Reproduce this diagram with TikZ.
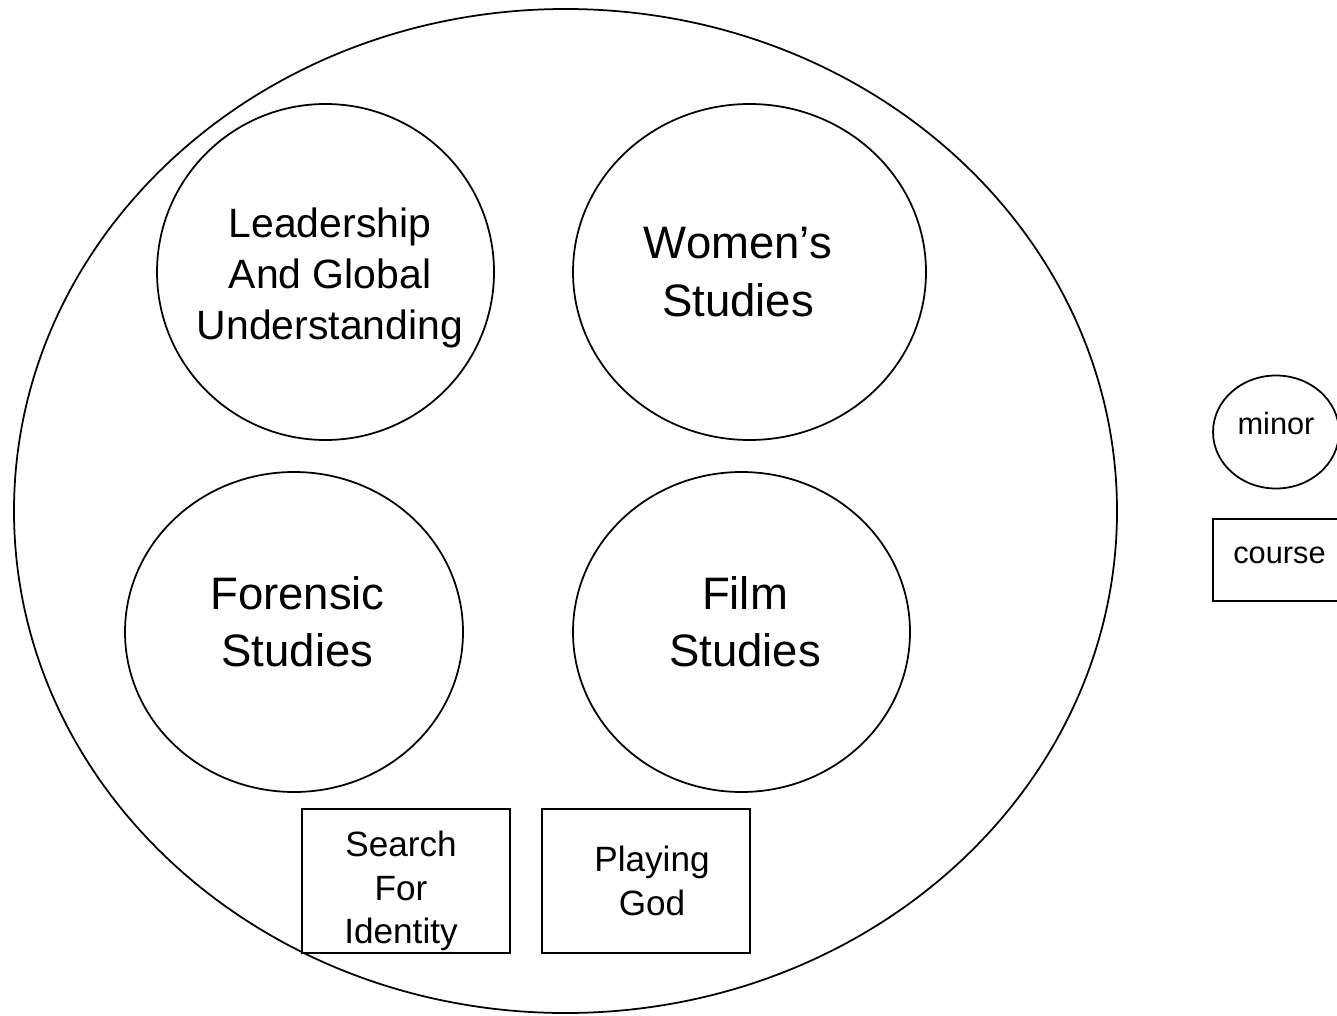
\documentclass[tikz,border=0pt]{standalone}
\usepackage{fontspec}
\setmainfont{Liberation Sans}
\usepackage{tikz}
\usetikzlibrary{shapes.geometric}
\tikzstyle{program} = [ellipse, draw=black, line width=1pt, minimum width=22.06cm, minimum height=20.08cm]
\tikzstyle{minor} = [ellipse, draw=black, line width=1pt, inner sep=0pt]
\tikzstyle{course} = [rectangle, draw=black, line width=1pt, fill=white, minimum width=4.16cm, minimum height=2.88cm]
\tikzstyle{coursetext} = [align=center, font=\fontsize{20pt}{24.7pt}\selectfont]
\tikzstyle{bigtext} = [align=center, font=\fontsize{25.9pt}{32.6pt}\selectfont]
\tikzstyle{smalltext} = [align=center, font=\fontsize{23.3pt}{29.2pt}\selectfont]
\tikzstyle{legend} = [draw=black, line width=1pt]
\tikzstyle{legendtext} = [font=\fontsize{17.5pt}{21pt}\selectfont]

\begin{document}
\begin{tikzpicture}
    \useasboundingbox (0,0) rectangle (26.74,-20.3);
    \node (program) [program] at (11.31,-10.22) {};
    \node (leadership) [minor, minimum width=6.74cm, minimum height=6.72cm, label={[smalltext, xshift=0.09cm, yshift=-0.12cm]center:Leadership\\And Global\\Understanding}] at (6.51,-5.44) {};
    \node (women) [minor, minimum width=7.06cm, minimum height=6.72cm, label={[bigtext, xshift=-0.23cm]center:Women’s\\Studies}] at (14.99,-5.44) {};
    \node (forensic) [minor, minimum width=6.76cm, minimum height=6.4cm, label={[bigtext, xshift=0.07cm, yshift=0.2cm]center:Forensic\\Studies}] at (5.88,-12.64) {};
    \node (film) [minor, minimum width=6.74cm, minimum height=6.4cm, label={[bigtext, xshift=0.07cm, yshift=0.2cm]center:Film\\Studies}] at (14.83,-12.64) {};
    \node (search) [course, label={[coursetext, xshift=-0.1cm, yshift=-0.2cm]center:Search\\For\\Identity}] at (8.12,-17.62) {};
    \node (playing) [course, right of=search, node distance=4.8cm, label={[coursetext, xshift=0.12cm]center:Playing\\God}] {};
    % legend
    \node (minorkey) [legend, ellipse, inner sep=0pt, minimum width=2.52cm, minimum height=2.26cm, label={[legendtext, yshift=0.16cm]center:minor}] at (25.52,-8.64) {};
    \node (coursekey) [legend, rectangle, minimum width=2.66cm, minimum height=1.64cm, label={[legendtext, yshift=0.1cm]center:course}] at (25.59,-11.2) {};
\end{tikzpicture}
\end{document}
